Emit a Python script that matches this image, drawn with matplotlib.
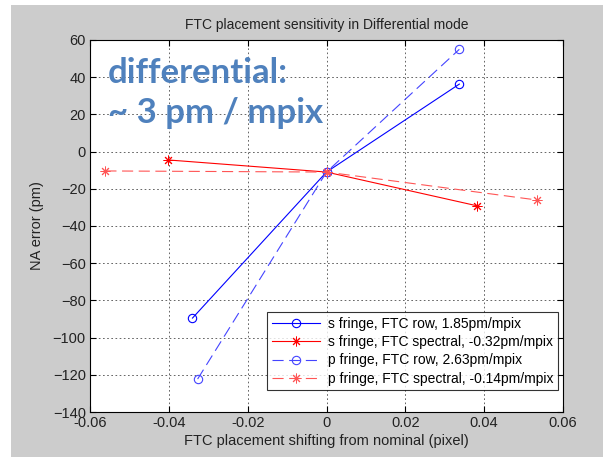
import matplotlib
matplotlib.use("Agg")
import matplotlib.pyplot as plt
from matplotlib.patches import Rectangle

# data
S_ROW_X = [-0.034, 0.0, 0.0337]
S_ROW_Y = [-89.5, -11.0, 36.3]
S_SPEC_X = [-0.0401, 0.0, 0.0383]
S_SPEC_Y = [-4.5, -11.0, -29.2]
P_ROW_X = [-0.0327, 0.0, 0.0337]
P_ROW_Y = [-122.3, -11.0, 55.0]
P_SPEC_X = [-0.0561, 0.0, 0.0533]
P_SPEC_Y = [-10.4, -11.0, -26.0]

LABELS = [
    "s fringe, FTC row, 1.85pm/mpix",
    "s fringe, FTC spectral, -0.32pm/mpix",
    "p fringe, FTC row, 2.63pm/mpix",
    "p fringe, FTC spectral, -0.14pm/mpix",
]
XTICKS = [-0.06, -0.04, -0.02, 0, 0.02, 0.04, 0.06]
XTICKLABELS = ["-0.06", "-0.04", "-0.02", "0", "0.02", "0.04", "0.06"]
YTICKS = list(range(-140, 61, 20))

STAR = (8, 2, 0)  # matlab-style asterisk

plt.rcParams["font.family"] = ["Liberation Sans", "DejaVu Sans"]

fig = plt.figure(figsize=(6.03, 4.57), dpi=100)
fig.patches.append(Rectangle((11 / 603, 0.0), 1 - 11 / 603, 1 - 5 / 457,
                             transform=fig.transFigure, facecolor="#cccccc",
                             edgecolor="none", zorder=-10))
ax = fig.add_axes([90 / 603, 1 - 412 / 457, 473 / 603, 372 / 457])

ax.plot(S_ROW_X, S_ROW_Y, "-", color="#0000ff", lw=0.8, marker="o", ms=6,
        mfc="none", mew=0.8, label=LABELS[0])
ax.plot(S_SPEC_X, S_SPEC_Y, "-", color="#ff0000", lw=0.8, marker=STAR, ms=7,
        mew=0.7, label=LABELS[1])
ax.plot(P_ROW_X, P_ROW_Y, "--", color="#4444ff", lw=0.8, marker="o", ms=6,
        mfc="none", mew=0.8, dashes=(10, 5), label=LABELS[2])
ax.plot(P_SPEC_X, P_SPEC_Y, "--", color="#ff5555", lw=0.8, marker=STAR, ms=7,
        mew=0.7, dashes=(10, 5), label=LABELS[3])

ax.set_xlim(-0.06, 0.06)
ax.set_ylim(-140, 60)
ax.set_xticks(XTICKS)
ax.set_xticklabels(XTICKLABELS)
ax.set_yticks(YTICKS)
ax.grid(True, color="black", linestyle=(0, (2, 3)), lw=0.6, alpha=0.7)
ax.tick_params(direction="in", top=True, right=True, labelsize=10.5, length=4,
               pad=3, colors="black", labelcolor="#222222")
for sp in ax.spines.values():
    sp.set_linewidth(0.8)

ax.set_title("FTC placement sensitivity in Differential mode", fontsize=10,
             color="#222222", pad=8)
ax.set_xlabel("FTC placement shifting from nominal (pixel)", fontsize=10.5,
              color="#222222", labelpad=3)
ax.set_ylabel("NA error (pm)", fontsize=10.5, color="#222222", labelpad=6)

ax.text(0.038, 0.955, "differential:\n~ 3 pm / mpix", transform=ax.transAxes,
        fontsize=25, fontweight="bold", color="#4f81bd", family="Lato",
        va="top", ha="left", linespacing=1.33)

leg = ax.legend(loc="lower right", bbox_to_anchor=(0.99, 0.058), fontsize=10,
                frameon=True, fancybox=False, edgecolor="black",
                handlelength=3.4, borderpad=0.35, labelspacing=0.3,
                handletextpad=0.6, borderaxespad=0.0)
leg.get_frame().set_linewidth(0.8)

fig.savefig("out.png", dpi=100, facecolor="white")
